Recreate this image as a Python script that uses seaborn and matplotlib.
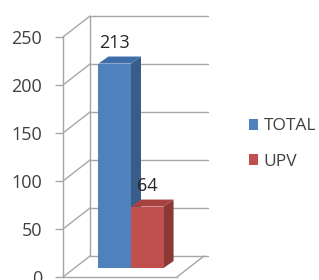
import matplotlib
matplotlib.use('Agg')
import matplotlib.pyplot as plt
import matplotlib.transforms as mtransforms
from matplotlib.patches import Polygon, Patch
from matplotlib.lines import Line2D
import pandas as pd
import seaborn as sns

# Datos
series = ['TOTAL', 'UPV']
values = [213, 64]
y_ticks = [0, 50, 100, 150, 200, 250]

front_colors = ['#4F81BD', '#C0504D']
side_colors = ['#385D8A', '#8C3836']
top_colors = ['#3F6EA8', '#A8423F']
grid_color = '#A6A6A6'
text_color = '#404040'

sns.set_theme(style='white')
plt.rcParams['font.family'] = ['Open Sans', 'DejaVu Sans']

fig = plt.figure(figsize=(3.19, 2.80), dpi=100)
ax = fig.add_axes([63 / 319, 3 / 280, 114 / 319, 240 / 280])
ax.patch.set_alpha(0)

df = pd.DataFrame({'cat': [''] * len(series), 'serie': series, 'valor': values})
sns.barplot(data=df, x='cat', y='valor', hue='serie', palette=front_colors,
            saturation=1, width=0.8, ax=ax, legend=False)

ax.set_xlim(-0.7, 0.7)
ax.set_ylim(0, 250)
ax.set_yticks(y_ticks)
ax.set_xticks([])
ax.set_xlabel('')
ax.set_ylabel('')

# profundidad (pixeles)
px = 1 / fig.dpi
wall_dx, wall_dy = 27, 21
bar_dx, bar_dy = 11, 9
side_dx, side_dy = 10, 7

for s in ['top', 'right']:
    ax.spines[s].set_visible(False)
for s in ['left', 'bottom']:
    ax.spines[s].set_color(grid_color)
    ax.spines[s].set_linewidth(1)
ax.tick_params(axis='y', left=True, length=6, width=1, color=grid_color,
               pad=9, labelsize=13, labelcolor=text_color)

to_disp = ax.transData.transform
ident = mtransforms.IdentityTransform()
xmin, xmax = ax.get_xlim()

def line_px(p0, p1):
    ax.add_line(Line2D([p0[0], p1[0]], [p0[1], p1[1]], color=grid_color, lw=1,
                       transform=ident, clip_on=False, zorder=1))

# paredes
for t in y_ticks:
    a = to_disp((xmin, t))
    b = to_disp((xmax, t))
    line_px(a, (a[0] + wall_dx, a[1] + wall_dy))
    line_px((a[0] + wall_dx, a[1] + wall_dy), (b[0] + wall_dx + 4, b[1] + wall_dy))
a0 = to_disp((xmin, 0))
a1 = to_disp((xmin, 250))
line_px((a0[0] + wall_dx, a0[1] + wall_dy), (a1[0] + wall_dx, a1[1] + wall_dy))
b0 = to_disp((xmax, 0))
line_px(b0, (b0[0] + wall_dx, b0[1] + wall_dy))

# barras 3D
shift = mtransforms.ScaledTranslation(bar_dx * px, bar_dy * px, fig.dpi_scale_trans)
for i, bar in enumerate(ax.patches):
    bar.set_transform(ax.transData + shift)
    bar.set_zorder(3)
    bar.set_edgecolor('none')
    x0, x1 = bar.get_x(), bar.get_x() + bar.get_width()
    h = bar.get_height()
    (ax0, ay0), (ax1, ay1) = (ax.transData + shift).transform([(x0, 0), (x1, h)])
    side = Polygon([(ax1, ay0), (ax1, ay1), (ax1 + side_dx, ay1 + side_dy),
                    (ax1 + side_dx, ay0 + side_dy)], closed=True,
                   facecolor=side_colors[i], edgecolor='none', transform=ident,
                   clip_on=False, zorder=2.5)
    top = Polygon([(ax0, ay1), (ax1, ay1), (ax1 + side_dx, ay1 + side_dy),
                   (ax0 + side_dx, ay1 + side_dy)], closed=True,
                  facecolor=top_colors[i], edgecolor='none', transform=ident,
                  clip_on=False, zorder=2.5)
    ax.add_patch(side)
    ax.add_patch(top)
    ax.annotate(str(values[i]), xy=((x0 + x1) / 2, h),
                xytext=(bar_dx * 0.72, (bar_dy + 21) * 0.72), textcoords='offset points',
                ha='center', va='center', fontsize=13, color='#262626', zorder=5)

handles = [Patch(facecolor=c, edgecolor='none') for c in front_colors]
fig.legend(handles, series, loc='center left', bbox_to_anchor=(240 / 319, 1 - 144 / 280),
           frameon=False, handlelength=0.55, handleheight=0.55, handletextpad=0.3,
           labelspacing=1.1, fontsize=12.5, labelcolor=text_color, borderpad=0)

plt.savefig('out.png', dpi=100)
